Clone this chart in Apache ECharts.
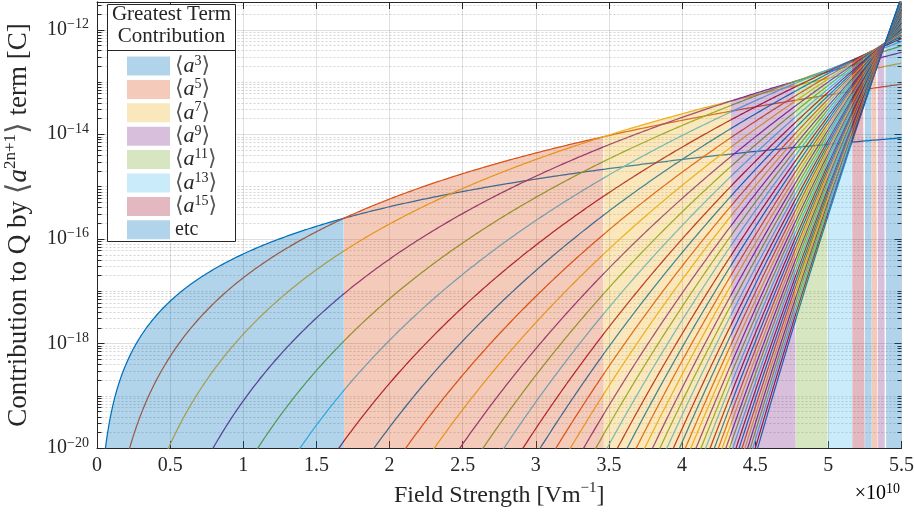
<!DOCTYPE html>
<html><head><meta charset="utf-8">
<script src="https://cdn.jsdelivr.net/npm/echarts@6/dist/echarts.min.js"></script>
<style>html,body{margin:0;padding:0;background:#fff}#c{width:914px;height:513px}</style>
</head><body><div id="c"></div>
<script>
// Order (2n+1) of each <a^(2n+1)> term, n = 1..50
const termOrders = [3,5,7,9,11,13,15,17,19,21,23,25,27,29,31,33,35,37,39,41,43,45,47,49,51,53,55,57,59,61,63,65,67,69,71,73,75,77,79,81,83,85,87,89,91,93,95,97,99,101];
// Field strength (x1e10 V/m) at which each term's contribution reaches 1e-20 C (read where each curve meets the bottom axis)
const bottomFieldE10 = [0.0580,0.2234,0.4889,0.7940,1.1003,1.3886,1.6543,1.8950,2.1115,2.3066,2.4810,2.6397,2.7832,2.9128,3.0308,3.1384,3.2368,3.3273,3.4106,3.4876,3.5589,3.6252,3.6870,3.7446,3.7984,3.8489,3.8964,3.9410,3.9830,4.0227,4.0602,4.0958,4.1295,4.1615,4.1919,4.2209,4.2485,4.2748,4.3000,4.3240,4.3471,4.3691,4.3903,4.4105,4.4300,4.4488,4.4668,4.4841,4.5008,4.5169];
// Legend entries (greatest-term groups)
const legendNames = ['a3','a5','a7','a9','a11','a13','a15','etc'];
const legendExponents = ['3','5','7','9','11','13','15',''];
// Axis ranges: field in units of 1e10 V/m, charge in units of 1e-20 C
const fieldMin = 0, fieldMax = 5.5, fieldStep = 0.5;
const chargeUnitExp = -20;
const chargeMax = 3.365e8;

const colors = ['#0072BD','#D95319','#EDB120','#7E2F8E','#77AC30','#4DBEEE','#A2142F'];
function rgba(hex, a){const n=parseInt(hex.slice(1),16);return 'rgba('+(n>>16&255)+','+(n>>8&255)+','+(n&255)+','+a+')';}
const SERIF = "'Liberation Serif', 'DejaVu Serif', serif";
const TXT = '#262626';

const series = [];
// curves
termOrders.forEach((k, i) => {
  const Eb = bottomFieldE10[i];
  const pts = [];
  const N = 2200;
  for (let j = 1; j <= N; j++) {
    const E = fieldMax * j / N;
    const v = Math.pow(E / Eb, k);
    if (v < 0.01) continue;
    pts.push([E, v]);
  }
  series.push({type:'line', name:'term'+k, data:pts, symbol:'none', showSymbol:false, silent:true,
    lineStyle:{color:colors[i%7], width:1.25}, z:2, animation:false});
});

// fills under the envelope, coloured by the dominating term
const Ls = bottomFieldE10.map(v => Math.log10(v));
function logv(i, lx){ return termOrders[i] * (lx - Ls[i]); }
const E0 = 0.01, h = 0.001;
const J = Math.round((fieldMax - E0) / h);
const runs = [];
let cur = null;
for (let j = 0; j <= J; j++) {
  const E = j === J ? fieldMax : E0 + j * h;
  const lx = Math.log10(E);
  let best = -Infinity, bi = 0;
  for (let i = 0; i < termOrders.length; i++) { const v = logv(i, lx); if (v > best) { best = v; bi = i; } }
  if (!cur || cur.i !== bi) {
    if (cur) {
      const a = cur.i, b = bi, ka = termOrders[a], kb = termOrders[b];
      const lxc = (ka*Ls[a] - kb*Ls[b]) / (ka - kb);
      const pc = [Math.pow(10, lxc), Math.pow(10, logv(a, lxc))];
      cur.pts.push(pc);
      cur = {i: bi, pts: [pc]};
    } else cur = {i: bi, pts: []};
    runs.push(cur);
  }
  cur.pts.push([E, Math.pow(10, best)]);
}
runs.forEach(r => {
  series.push({type:'line', name: r.i < 7 ? legendNames[r.i] : 'etc', data:r.pts, symbol:'none', showSymbol:false, silent:true,
    lineStyle:{width:0, opacity:0}, itemStyle:{color:colors[r.i%7]},
    areaStyle:{color:colors[r.i%7], opacity:0.3, origin:'start'}, z:3, animation:false});
});

// y grid + ticks (log decades, minor at 2..9)
const yGrid = [];
for (let e = 0; e <= 9; e++) for (let m = 1; m <= 9; m++) {
  const v = m * Math.pow(10, e);
  if (v > chargeMax) continue;
  yGrid.push([fieldMin, v, (m === 1 && (e + chargeUnitExp) % 2 === 0) ? 1 : 0]);
}
series.push({type:'custom', data:yGrid, silent:true, z:1, animation:false, clip:false,
  encode:{x:0, y:1},
  renderItem:(params, api) => {
    const v = api.value(1), major = api.value(2) === 1;
    const pL = api.coord([fieldMin, v]), pR = api.coord([fieldMax, v]);
    const y = Math.round(pL[1]) + 0.5, tl = major ? 7 : 4;
    const xl = Math.round(pL[0]) + 0.5, xr = Math.round(pR[0]) - 0.5;
    return {type:'group', children:[
      {type:'line', shape:{x1:xl, y1:y, x2:xr, y2:y}, style:{stroke: major ? 'rgba(38,38,38,0.15)' : 'rgba(38,38,38,0.2)', lineWidth:1, lineDash: major ? null : [2,2]}},
      {type:'line', shape:{x1:xl, y1:y, x2:xl+tl, y2:y}, style:{stroke:TXT, lineWidth:1}},
      {type:'line', shape:{x1:xr-tl, y1:y, x2:xr, y2:y}, style:{stroke:TXT, lineWidth:1}}
    ]};
  }});

const supRich = {
  b:{fontFamily:SERIF, fontSize:20, lineHeight:24, color:TXT},
  s:{fontFamily:SERIF, fontSize:14, lineHeight:11, verticalAlign:'top', color:TXT}
};

const option = {
  animation:false,
  backgroundColor:'#fff',
  grid:{left:97, right:12.5, top:2, bottom:65, show:false, containLabel:false, outerBoundsMode:'none'},
  xAxis:[{
    type:'value', min:fieldMin, max:fieldMax, interval:fieldStep,
    axisLine:{lineStyle:{color:TXT, width:1}},
    axisTick:{inside:true, length:7, lineStyle:{color:TXT}},
    axisLabel:{color:TXT, fontFamily:SERIF, fontSize:20, margin:8},
    splitLine:{show:true, lineStyle:{color:'rgba(38,38,38,0.15)', width:1}},
    name:'Field Strength [Vm{s|−1}]', nameLocation:'middle', nameGap:32,
    nameTextStyle:{fontFamily:SERIF, fontSize:24, lineHeight:30, color:TXT,
      rich:{s:{fontFamily:SERIF, fontSize:15, lineHeight:13, verticalAlign:'top', color:TXT}}}
  },{
    type:'value', position:'top', min:fieldMin, max:fieldMax, interval:fieldStep,
    axisLine:{show:true, lineStyle:{color:TXT, width:1}},
    axisTick:{inside:true, length:7, lineStyle:{color:TXT}},
    axisLabel:{show:false}, splitLine:{show:false}
  }],
  yAxis:[{
    type:'log', min:1, max:chargeMax,
    axisLine:{show:true, lineStyle:{color:TXT, width:1}},
    axisTick:{show:false}, splitLine:{show:false}, minorTick:{show:false},
    axisLabel:{margin:8, formatter:(v) => {
      const lv = Math.log10(v), e = Math.round(lv);
      if (Math.abs(lv - e) > 1e-6) return '';
      const exp = e + chargeUnitExp;
      if (exp % 2 !== 0) return '';
      return '{b|10}{s|' + (exp < 0 ? '−' : '') + Math.abs(exp) + '}';
    }, rich:supRich},
    name:'Contribution to Q by {lb|⟨}{it|a}{s|2n+1}{lb|⟩} term [C]', nameLocation:'middle', nameRotate:90, nameGap:59,
    nameTextStyle:{fontFamily:SERIF, fontSize:27, lineHeight:34, color:TXT,
      rich:{lb:{fontFamily:"'DejaVu Sans', sans-serif", fontSize:30, lineHeight:34, color:'#555'},
            it:{fontFamily:SERIF, fontStyle:'italic', fontSize:27, lineHeight:34, color:TXT},
            s:{fontFamily:SERIF, fontSize:17, lineHeight:14, verticalAlign:'top', color:TXT}}}
  },{
    type:'log', position:'right', min:1, max:chargeMax,
    axisLine:{show:true, lineStyle:{color:TXT, width:1}},
    axisTick:{show:false}, axisLabel:{show:false}, splitLine:{show:false}
  }],
  legend:{
    data: legendNames.map((n, i) => ({name:n, icon:'rect', itemStyle:{color:rgba(colors[i%7], 0.3), borderWidth:0, opacity:1}})),
    orient:'vertical', left:127, top:54, padding:0, itemWidth:43, itemHeight:19, itemGap:-0.6,
    selectedMode:false, z:20,
    formatter:(name) => {
      const i = legendNames.indexOf(name);
      if (!legendExponents[i]) return '{e|' + name + '}';
      return '{lb|⟨}{it|a}{s|' + legendExponents[i] + '}{lb|⟩}';
    },
    textStyle:{fontFamily:SERIF, fontSize:20, color:TXT, lineHeight:24,
      rich:{
        lb:{fontFamily:"'DejaVu Sans', sans-serif", fontSize:22, lineHeight:24, color:'#555'},
        it:{fontFamily:SERIF, fontStyle:'italic', fontSize:22, lineHeight:24, color:TXT},
        s:{fontFamily:SERIF, fontSize:14, lineHeight:10, verticalAlign:'top', color:TXT},
        e:{fontFamily:SERIF, fontSize:20, lineHeight:24, color:TXT}
      }}
  },
  graphic:[
    {type:'rect', z:10, shape:{x:107.5, y:4.5, width:128, height:237}, style:{fill:'#fff', stroke:TXT, lineWidth:1}},
    {type:'line', z:11, shape:{x1:107.5, y1:50.5, x2:235.5, y2:50.5}, style:{stroke:TXT, lineWidth:1}},
    {type:'text', z:11, style:{x:171.5, y:14, text:'Greatest Term', align:'center', verticalAlign:'middle', font:"21px 'Liberation Serif', serif", fill:TXT}},
    {type:'text', z:11, style:{x:171.5, y:36, text:'Contribution', align:'center', verticalAlign:'middle', font:"21px 'Liberation Serif', serif", fill:TXT}},
    {type:'text', z:11, style:{x:900, y:494, text:'{b|×10}{s|10}', align:'right', verticalAlign:'middle',
      rich:{b:{fontFamily:SERIF, fontSize:20, lineHeight:24, color:TXT}, s:{fontFamily:SERIF, fontSize:14, lineHeight:11, verticalAlign:'top', color:TXT}}}}
  ],
  series: series
};
const chart = echarts.init(document.getElementById('c'), null, {renderer:'canvas'});
chart.setOption(option);
</script></body></html>
